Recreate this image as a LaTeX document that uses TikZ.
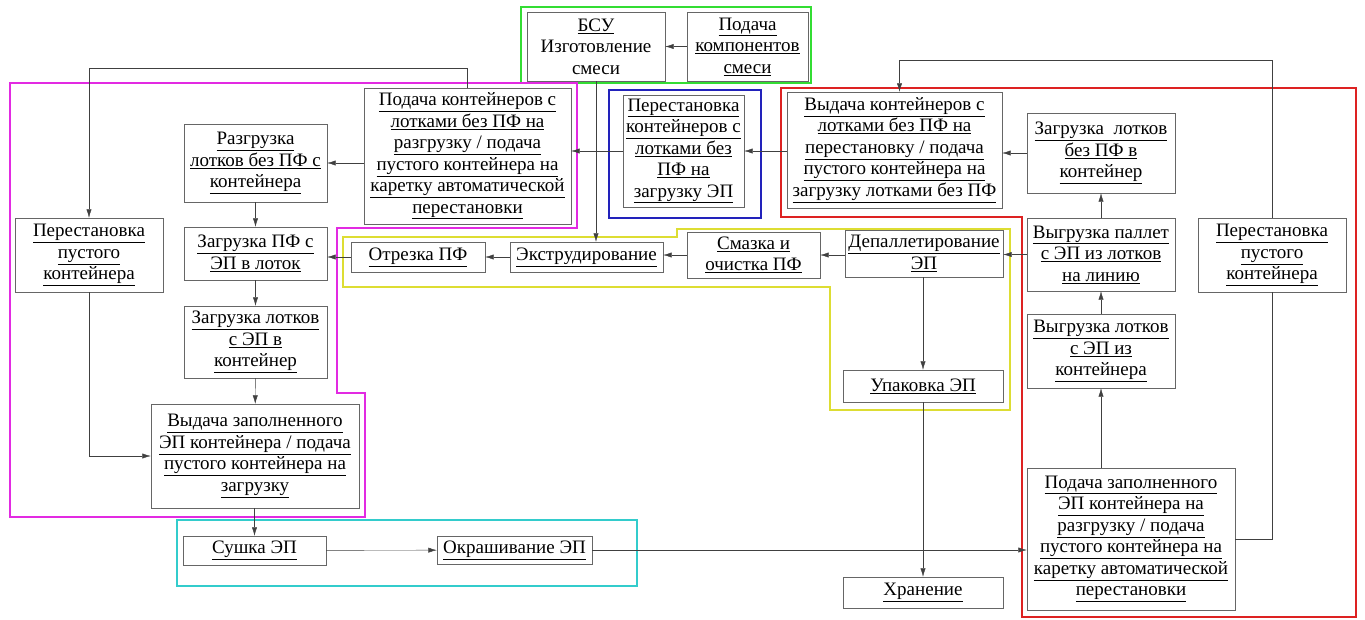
\documentclass[tikz,border=0pt]{standalone}
\usepackage{fontspec}
\setmainfont{Liberation Serif}
\newfontfamily\boxfont{Liberation Serif}
\usetikzlibrary{arrows.meta, positioning}

\definecolor{frgreen}{HTML}{33DD33}
\definecolor{frmagenta}{HTML}{E22AE2}
\definecolor{frblue}{HTML}{2222BB}
\definecolor{frred}{HTML}{DD2222}
\definecolor{fryellow}{HTML}{DDDD33}
\definecolor{frcyan}{HTML}{33CCCC}

\newcommand{\ulin}[1]{\underline{#1}}

\begin{document}
\begin{tikzpicture}[
  x=1pt, y=-1pt,
  box/.style={rectangle, draw=black!60, align=center, inner sep=0pt,
              font=\boxfont\fontsize{19}{21.5}\selectfont},
  sz/.style 2 args={minimum width=#1pt, minimum height=#2pt},
  arrow/.style={-{Latex[length=3mm,width=1.8mm]}, color=black!75},
  conn/.style={color=black!75},
  frame/.style={line width=2.8pt, line join=miter}
]
\useasboundingbox[fill=white] (0,0) rectangle (1365,619);

% frames
\draw[frame, color=frgreen] (521,7) rectangle (811,83);
\draw[frame, color=frmagenta] (10,83) -- (577,83) -- (577,228) -- (337,228) -- (337,393)
  -- (365,393) -- (365,517) -- (10,517) -- cycle;
\draw[frame, color=frblue] (609,90) rectangle (761,218);
\draw[frame, color=frred] (781,88) -- (1356,88) -- (1356,617) -- (1022,617) -- (1022,217)
  -- (781,217) -- cycle;
\draw[frame, color=fryellow] (343,237) -- (677,237) -- (677,229) -- (1010,229) -- (1010,410)
  -- (830,410) -- (830,287) -- (343,287) -- cycle;
\draw[frame, color=frcyan] (177,520) rectangle (637,586);

% top group
\node[box, sz={138}{69}] (bsu) at (596,46.5) {\ulin{БСУ}\\Изготовление\\смеси};
\node[box, sz={121}{69}] (komp) at (747.5,46.5) {\ulin{Подача}\\\ulin{компонентов}\\\ulin{смеси}};

% left group
\node[box, sz={207}{136}] (podcont) at (467.5,156) {\ulin{Подача контейнеров с}\\\ulin{лотками без ПФ на}\\\ulin{разгрузку / подача}\\\ulin{пустого контейнера на}\\\ulin{каретку автоматической}\\\ulin{перестановки}};
\node[box, sz={143}{78}] (razgr) at (255.5,163) {\ulin{Разгрузка}\\\ulin{лотков без ПФ с}\\\ulin{контейнера}};
\node[box, sz={148}{74}] (perestL) at (89,255) {\ulin{Перестановка}\\\ulin{пустого}\\\ulin{контейнера}};
\node[box, sz={143}{53}] (zagrpf) at (255.5,253.5) {\ulin{Загрузка ПФ с}\\\ulin{ЭП в лоток}};
\node[box, sz={143}{72}] (zagrlot) at (255.5,342) {\ulin{Загрузка лотков}\\\ulin{с ЭП в}\\\ulin{контейнер}};
\node[box, sz={208}{104}] (vydzap) at (255,456) {\ulin{Выдача заполненного}\\\ulin{ЭП контейнера / подача}\\\ulin{пустого контейнера на}\\\ulin{загрузку}};

% bottom group
\node[box, sz={143}{29}] (sushka) at (254.5,550.5) {\ulin{Сушка ЭП}};
\node[box, sz={155}{28}] (okras) at (514.5,550) {\ulin{Окрашивание ЭП}};
\node[box, sz={160}{31}] (hran) at (923,592.5) {\ulin{Хранение}};

% middle line
\node[box, sz={134}{30}] (otrez) at (418,257) {\ulin{Отрезка ПФ}};
\node[box, sz={153}{30}] (extr) at (586.5,257) {\ulin{Экструдирование}};
\node[box, sz={133}{46}] (smaz) at (753.5,255) {\ulin{Смазка и}\\\ulin{очистка ПФ}};
\node[box, sz={158}{47}] (depal) at (924,253.5) {\ulin{Депаллетирование}\\\ulin{ЭП}};
\node[box, sz={160}{32}] (upak) at (923,386) {\ulin{Упаковка ЭП}};

% blue + red group
\node[box, sz={121}{112}] (perestB) at (683.5,151) {\ulin{Перестановка}\\\ulin{контейнеров с}\\\ulin{лотками без}\\\ulin{ПФ на}\\\ulin{загрузку ЭП}};
\node[box, sz={215}{116}] (vydcont) at (894.5,150) {\ulin{Выдача контейнеров с}\\\ulin{лотками без ПФ на}\\\ulin{перестановку / подача}\\\ulin{пустого контейнера на}\\\ulin{загрузку лотками без ПФ}};
\node[box, sz={148}{80}] (zagrbez) at (1101,153) {\ulin{Загрузка\ \ лотков}\\\ulin{без ПФ в}\\\ulin{контейнер}};
\node[box, sz={148}{73}] (vygrpal) at (1101,254.5) {\ulin{Выгрузка паллет}\\\ulin{с ЭП из лотков}\\\ulin{на линию}};
\node[box, sz={148}{74}] (vygrlot) at (1101,351) {\ulin{Выгрузка лотков}\\\ulin{с ЭП из}\\\ulin{контейнера}};
\node[box, sz={208}{142}] (podzap) at (1131,539) {\ulin{Подача заполненного}\\\ulin{ЭП контейнера на}\\\ulin{разгрузку / подача}\\\ulin{пустого контейнера на}\\\ulin{каретку автоматической}\\\ulin{перестановки}};
\node[box, sz={148}{74}] (perestR) at (1272,255) {\ulin{Перестановка}\\\ulin{пустого}\\\ulin{контейнера}};

% connectors
\draw[arrow] (komp) -- (bsu);
\draw[arrow] (bsu.south) -- (bsu.south |- extr.north);
\draw[arrow] (podcont.north) -- ++(0,-20) -| (perestL.north);
\draw[arrow] (perestB) -- (perestB -| podcont.east);
\draw[arrow] (vydcont.west |- perestB) -- (perestB.east);
\draw[arrow] (podcont.west |- razgr) -- (razgr.east);
\draw[arrow] (razgr) -- (zagrpf);
\draw[arrow] (zagrpf) -- (zagrlot);
\draw[arrow] (zagrlot) -- (vydzap);
\draw[arrow] (perestL.south) |- (vydzap.west);
\draw[arrow] (vydzap.south -| sushka) -- (sushka.north);
\draw[arrow] (sushka) -- (okras);
\draw[arrow] (okras.east) -- (okras.east -| podzap.west);
\draw[arrow] (otrez) -- (otrez -| zagrpf.east);
\draw[arrow] (extr) -- (otrez);
\draw[arrow] (smaz) -- (smaz -| extr.east);
\draw[arrow] (depal.west |- smaz) -- (smaz.east);
\draw[arrow] (vygrpal.west) -- (vygrpal.west -| depal.east);
\draw[arrow] (depal.south -| upak) -- (upak.north);
\draw[arrow] (upak) -- (hran);
\draw[arrow] (zagrbez.west) -- (zagrbez.west -| vydcont.east);
\draw[arrow] (vygrpal) -- (zagrbez);
\draw[arrow] (vygrlot) -- (vygrpal);
\draw[arrow] (podzap.north -| vygrlot) -- (vygrlot.south);
\draw[conn] (podzap.east) -| (perestR.south);
\draw[arrow] (perestR.north) -- ++(0,-158) -| ([xshift=5pt]vydcont.north);

\end{tikzpicture}
\end{document}
